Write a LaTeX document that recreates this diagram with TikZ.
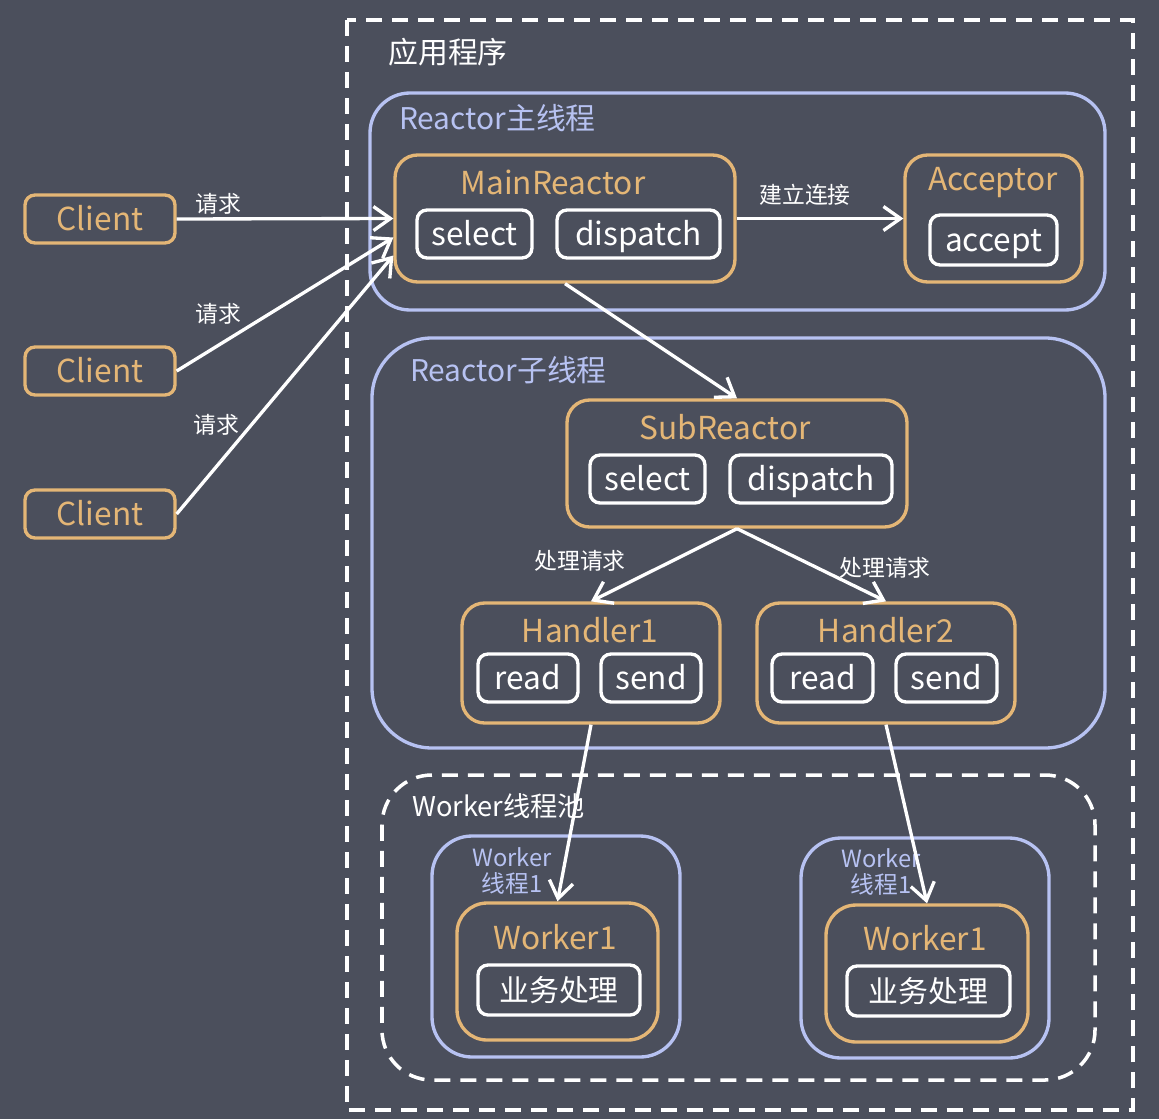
\documentclass[tikz,border=0pt]{standalone}
\usepackage{fontspec}
\setmainfont{Noto Sans CJK SC}
\usetikzlibrary{arrows.meta,calc}

\definecolor{bgcol}{RGB}{75,79,92}
\definecolor{orng}{RGB}{228,182,118}
\definecolor{lav}{RGB}{183,194,242}

\tikzset{
  obox/.style={draw=orng, line width=1.9pt, rounded corners=0.45cm, inner sep=0pt},
  wbox/.style={draw=white, line width=1.9pt, rounded corners=0.2cm, inner sep=0pt,
    minimum height=0.96cm, text=white, text height=13pt, text depth=0pt,
    font=\fontsize{18}{20}\selectfont},
  cbox/.style={wbox, draw=orng, text=orng, minimum width=3cm},
  jbox/.style={wbox, minimum height=1cm, text height=14pt, text depth=1pt,
    font=\fontsize{17}{19}\selectfont},
  lframe/.style={draw=lav, line width=1.9pt},
  dframe/.style={draw=white, line width=2pt, dash pattern=on 0.32cm off 0.2cm},
  ttl/.style={text=orng, font=\fontsize{18}{20}\selectfont},
  lbl/.style={text=white, font=\fontsize{13}{15}\selectfont},
  arr/.style={draw=white, line width=1.9pt, -{Straight Barb[length=0.34cm,width=0.48cm]}}
}

\begin{document}
\begin{tikzpicture}[x=0.02cm,y=-0.02cm]
\fill[bgcol] (0,0) rectangle (1159,1119);

% containers
\draw[dframe] (347,20) rectangle (1133,1110);
\node[text=white, font=\fontsize{17}{19}\selectfont] (app) at (448,52) {应用程序};
\draw[lframe, rounded corners=0.8cm] (370,93) rectangle (1105,310);
\node[anchor=west, text=lav, font=\fontsize{17}{19}\selectfont] (rmain) at (393,118) {Reactor主线程};
\draw[lframe, rounded corners=1.2cm] (372,338) rectangle (1105,748);
\node[anchor=west, text=lav, font=\fontsize{17}{19}\selectfont] (rsub) at (404,370) {Reactor子线程};
\draw[dframe, rounded corners=1cm] (382,775) rectangle (1095,1080);
\node[anchor=west, text=white, font=\fontsize{15.5}{17}\selectfont] (pool) at (406,806) {Worker线程池};
\draw[lframe, rounded corners=0.8cm] (432,836) rectangle (680,1057);
\draw[lframe, rounded corners=0.8cm] (801,838) rectangle (1049,1058);
\node[text=lav, align=center, font=\fontsize{13.5}{15}\selectfont] (wt1) at (512,871) {Worker\\线程1};
\node[text=lav, align=center, font=\fontsize{13.5}{15}\selectfont] (wt2) at (881,872) {Worker\\线程1};

% clients
\node[cbox] (c1) at (100,219) {Client};
\node[cbox] (c2) at (100,371) {Client};
\node[cbox] (c3) at (100,514) {Client};

% main reactor
\node[obox, minimum width=6.8cm, minimum height=2.54cm] (main) at (565,218.5) {};
\node[ttl] (maint) at (553,182) {MainReactor};
\node[wbox, minimum width=2.3cm] (msel) at (474.5,234) {select};
\node[wbox, minimum width=3.26cm] (mdis) at (638.5,234) {dispatch};
\node[obox, minimum width=3.54cm, minimum height=2.54cm] (acc) at (993.5,218.5) {};
\node[ttl] (acct) at (993,183) {Acceptor};
\node[wbox, minimum width=2.54cm, minimum height=1cm] (accb) at (993.5,240) {accept};

% sub reactor
\node[obox, minimum width=6.8cm, minimum height=2.54cm] (sub) at (737,463.5) {};
\node[ttl] (subt) at (725,427) {SubReactor};
\node[wbox, minimum width=2.3cm] (ssel) at (647.5,479) {select};
\node[wbox, minimum width=3.24cm] (sdis) at (811,479) {dispatch};

% handlers
\node[obox, minimum width=5.16cm, minimum height=2.4cm] (h1) at (591,663) {};
\node[ttl] (h1t) at (590,630) {Handler1};
\node[wbox, minimum width=2cm] (h1r) at (528,678) {read};
\node[wbox, minimum width=2cm] (h1s) at (651,678) {send};
\node[obox, minimum width=5.16cm, minimum height=2.4cm] (h2) at (886,663) {};
\node[ttl] (h2t) at (886,630) {Handler2};
\node[wbox, minimum width=2.02cm] (h2r) at (822.5,678) {read};
\node[wbox, minimum width=2.02cm] (h2s) at (946.5,678) {send};

% workers
\node[obox, rounded corners=0.6cm, minimum width=4.02cm, minimum height=2.74cm] (w1) at (557.5,971.5) {};
\node[ttl] (w1t) at (555,937) {Worker1};
\node[jbox, minimum width=3.24cm] (w1b) at (559,990) {业务处理};
\node[obox, rounded corners=0.6cm, minimum width=4.04cm, minimum height=2.74cm] (w2) at (927,973.5) {};
\node[ttl] (w2t) at (925,938) {Worker1};
\node[jbox, minimum width=3.26cm] (w2b) at (928.5,991) {业务处理};

% connectors
\draw[arr] (c1.east) -- (main.west);
\draw[arr] (c2.east) -- ($(main.west)+(0,19)$);
\draw[arr] (c3.east) -- ($(main.west)+(0,37)$);
\node[lbl] (q1) at (218,204) {请求};
\node[lbl] (q2) at (218,314) {请求};
\node[lbl] (q3) at (216,425) {请求};
\draw[arr] (main.east) -- (acc.west);
\node[lbl] (conn) at (805,195) {建立连接};
\draw[arr] (main.south) -- (sub.north);
\draw[arr] (sub.south) -- (h1.north);
\draw[arr] (sub.south) -- (h2.north);
\node[lbl] (p1) at (580,561) {处理请求};
\node[lbl] (p2) at (885,568) {处理请求};
\draw[arr] (h1.south) -- (w1.north);
\draw[arr] (h2.south) -- (w2.north);
\end{tikzpicture}
\end{document}
